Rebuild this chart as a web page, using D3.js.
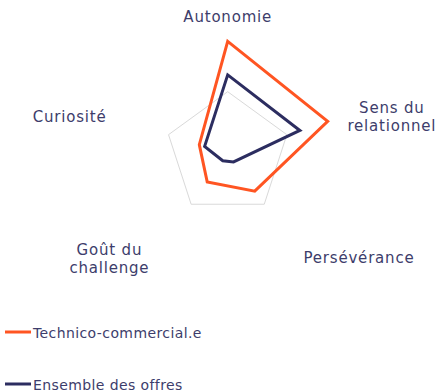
<!DOCTYPE html>
<html>
<head>
<meta charset="utf-8">
<script src="https://cdn.jsdelivr.net/npm/d3@7"></script>
<style>
  html, body { margin: 0; padding: 0; background: #fff; }
  svg { display: block; }
  text { font-family: "DejaVu Sans", sans-serif; fill: #3d3d6b; }
</style>
</head>
<body>
<svg id="chart" width="439" height="391"></svg>
<script>
// ---- data ----
const categories = ["Autonomie", "Sens du relationnel", "Persévérance", "Goût du challenge", "Curiosité"];
const labelLines = [["Autonomie"], ["Sens du", "relationnel"], ["Persévérance"], ["Goût du", "challenge"], ["Curiosité"]];
const seriesNames = ["Technico-commercial.e", "Ensemble des offres"];
const technico = [1.81, 1.69, 0.74, 0.56, 0.48];
const ensemble = [1.27, 1.22, 0.16, 0.135, 0.39];
const gridLevels = [1];

// ---- layout ----
const W = 439, H = 391;
const cx = 227.7, cy = 153.9;
const colors = ["#ff5522", "#2c2d60"];
const labelRadius = 140;
const labelOffsets = [[0, 8], [31, 2], [49, -4], [-36, -12], [-25, 11]];
const lineGap = 18;

const svg = d3.select("#chart");
const g = svg.append("g").attr("transform", `translate(${cx},${cy})`);

const r = d3.scaleLinear().domain([0, 1]).range([0, 62.2]);
const angle = d3.scalePoint().domain(d3.range(categories.length + 1)).range([0, 2 * Math.PI]);
const ang = i => angle(i);

const radial = d3.lineRadial()
  .angle((d, i) => ang(i))
  .radius(d => r(d))
  .curve(d3.curveLinearClosed);

// grid ring
gridLevels.forEach(lv => {
  g.append("path")
    .attr("d", radial(categories.map(() => lv)))
    .attr("fill", "none")
    .attr("stroke", "#d9d9d9")
    .attr("stroke-width", 1);
});

// series
[technico, ensemble].forEach((vals, k) => {
  g.append("path")
    .attr("d", radial(vals))
    .attr("fill", "none")
    .attr("stroke", colors[k])
    .attr("stroke-width", 3)
    .attr("stroke-linejoin", "miter");
});

// category labels
labelLines.forEach((lines, i) => {
  const a = ang(i);
  const x = labelRadius * Math.sin(a) + labelOffsets[i][0];
  const y = -labelRadius * Math.cos(a) + labelOffsets[i][1];
  const t = g.append("text")
    .attr("x", x).attr("y", y)
    .attr("text-anchor", "middle")
    .attr("font-size", 15)
    .attr("letter-spacing", 0.8);
  lines.forEach((ln, j) => {
    t.append("tspan").attr("x", x).attr("dy", j === 0 ? 0 : lineGap).text(ln);
  });
});

// legend
const legendY = [332, 384];
seriesNames.forEach((name, k) => {
  const lg = svg.append("g").attr("transform", `translate(0,${legendY[k]})`);
  lg.append("line").attr("x1", 5).attr("x2", 31).attr("y1", 0).attr("y2", 0)
    .attr("stroke", colors[k]).attr("stroke-width", 3);
  lg.append("text").attr("x", 33).attr("y", 5.5).attr("font-size", 14)
    .attr("letter-spacing", 0.4).text(name);
});
</script>
</body>
</html>
